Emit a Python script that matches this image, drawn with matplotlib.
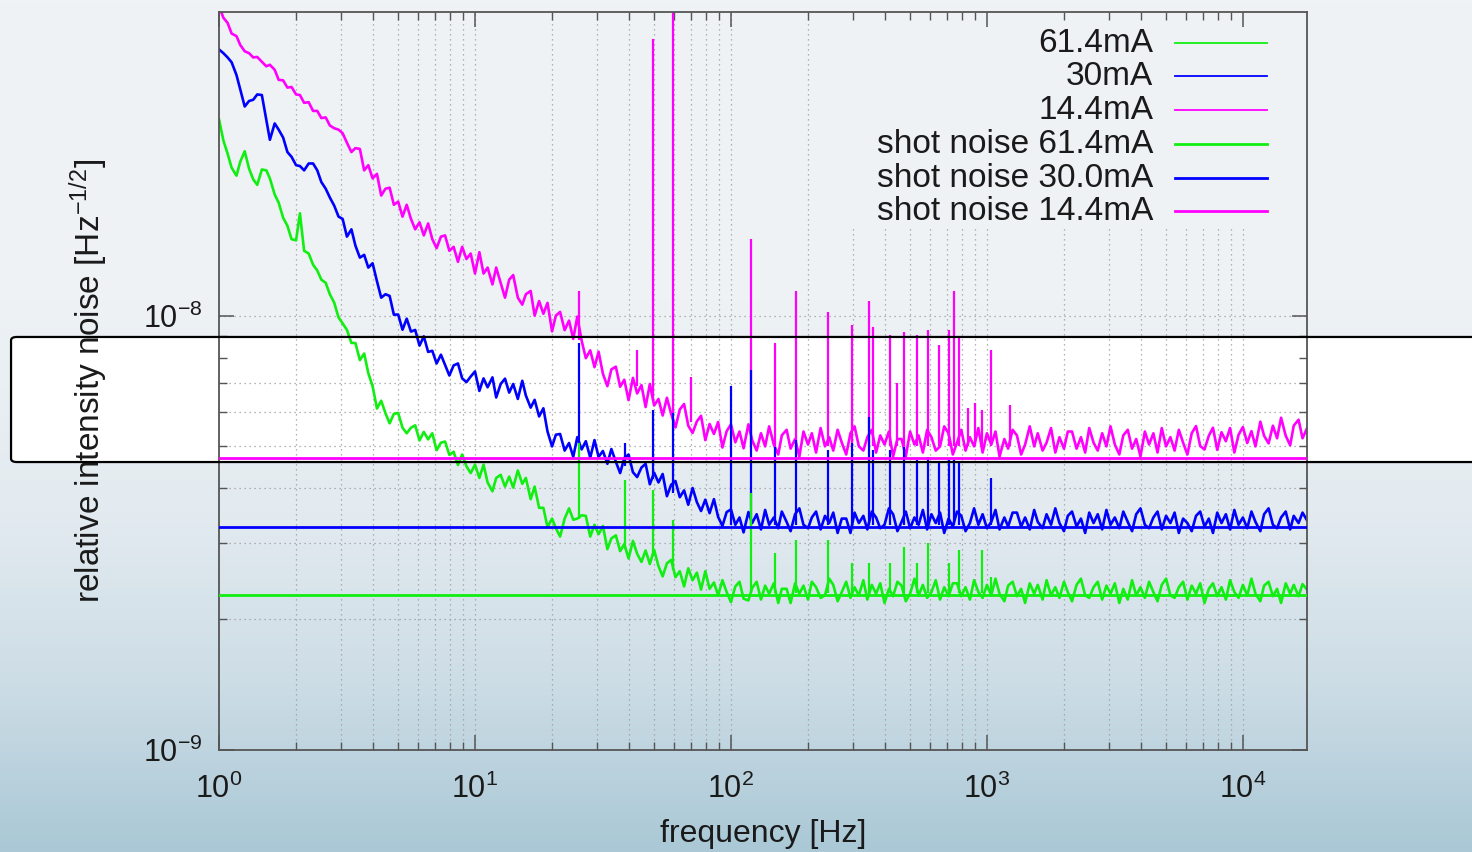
import numpy as np
import matplotlib.pyplot as plt
from matplotlib.colors import LinearSegmentedColormap
from matplotlib.patches import FancyBboxPatch
from matplotlib.ticker import FixedLocator, NullFormatter

plt.rcParams['font.family'] = ['Liberation Sans', 'DejaVu Sans']
plt.rcParams['mathtext.fontset'] = 'custom'
plt.rcParams['mathtext.rm'] = 'Liberation Sans'
plt.rcParams['mathtext.it'] = 'Liberation Sans:italic'
plt.rcParams['mathtext.bf'] = 'Liberation Sans:bold'

UNIT = 1e-9  # noise values below are in units of 1e-9 Hz^-1/2

# frequency axis [Hz], 60 points per decade
freq = [1.00, 1.04, 1.08, 1.12, 1.17, 1.21, 1.26, 1.31, 1.36, 1.41, 1.47, 1.53, 1.58, 1.65, 1.71,
        1.78, 1.85, 1.92, 2.00, 2.07, 2.15, 2.24, 2.33, 2.42, 2.51, 2.61, 2.71, 2.82, 2.93, 3.04,
        3.16, 3.29, 3.41, 3.55, 3.69, 3.83, 3.98, 4.14, 4.30, 4.47, 4.64, 4.82, 5.01, 5.21, 5.41,
        5.62, 5.84, 6.07, 6.31, 6.56, 6.81, 7.08, 7.36, 7.64, 7.94, 8.25, 8.58, 8.91, 9.26, 9.62,
        10.0, 10.4, 10.8, 11.2, 11.7, 12.1, 12.6, 13.1, 13.6, 14.1, 14.7, 15.3, 15.8, 16.5, 17.1,
        17.8, 18.5, 19.2, 20.0, 20.7, 21.5, 22.4, 23.3, 24.2, 25.1, 26.1, 27.1, 28.2, 29.3, 30.4,
        31.6, 32.9, 34.1, 35.5, 36.9, 38.3, 39.8, 41.4, 43.0, 44.7, 46.4, 48.2, 50.1, 52.1, 54.1,
        56.2, 58.4, 60.7, 63.1, 65.6, 68.1, 70.8, 73.6, 76.4, 79.4, 82.5, 85.8, 89.1, 92.6, 96.2,
        100, 104, 108, 112, 117, 121, 126, 131, 136, 141, 147, 153, 158, 165, 171,
        178, 185, 192, 200, 207, 215, 224, 233, 242, 251, 261, 271, 282, 293, 304,
        316, 329, 341, 355, 369, 383, 398, 414, 430, 447, 464, 482, 501, 521, 541,
        562, 584, 607, 631, 656, 681, 708, 736, 764, 794, 825, 858, 891, 926, 962,
        1000, 1040, 1080, 1120, 1170, 1210, 1260, 1310, 1360, 1410, 1470, 1530, 1580, 1650, 1710,
        1780, 1850, 1920, 2000, 2070, 2150, 2240, 2330, 2420, 2510, 2610, 2710, 2820, 2930, 3040,
        3160, 3290, 3410, 3550, 3690, 3830, 3980, 4140, 4300, 4470, 4640, 4820, 5010, 5210, 5410,
        5620, 5840, 6070, 6310, 6560, 6810, 7080, 7360, 7640, 7940, 8250, 8580, 8910, 9260, 9620,
        10000, 10400, 10800, 11200, 11700, 12100, 12600, 13100, 13600, 14100, 14700, 15300, 15800,
        16500, 17100, 17800]

# 14.4 mA
rin_144 = [51.5, 48.5, 47.2, 44.6, 44.0, 42.0, 40.6, 40.2, 39.3, 39.4, 38.4, 37.5, 37.8, 36.8, 34.9,
           34.8, 33.5, 33.6, 32.3, 32.2, 30.9, 31.0, 29.6, 29.6, 28.5, 28.6, 27.4, 27.0, 26.8, 26.3,
           25.0, 23.8, 24.3, 24.2, 21.6, 22.2, 20.7, 21.2, 18.9, 19.6, 19.7, 18.0, 18.3, 16.9, 18.0,
           16.7, 15.8, 16.4, 15.3, 16.3, 15.0, 14.3, 15.2, 15.3, 14.1, 14.4, 13.3, 14.4, 13.5, 13.9,
           12.5, 14.0, 12.5, 12.9, 11.8, 12.9, 11.9, 11.0, 12.1, 12.4, 11.0, 10.6, 11.2, 11.4, 10.0,
           10.8, 10.1, 10.7, 9.20, 10.0, 10.2, 9.26, 9.74, 8.84, 9.95, 8.76, 7.98, 8.32, 7.61, 8.26,
           7.35, 6.88, 7.52, 7.63, 6.86, 7.12, 6.39, 7.19, 6.62, 6.92, 6.16, 6.96, 6.21, 6.43, 5.89,
           6.47, 5.94, 5.53, 6.08, 6.26, 5.58, 5.37, 5.71, 5.88, 5.17, 5.63, 5.34, 5.69, 4.97, 5.42,
           5.62, 5.11, 5.41, 4.95, 5.62, 5.17, 4.89, 5.36, 5.00, 5.56, 5.05, 4.79, 5.30, 5.46, 4.94,
           5.20, 4.74, 5.41, 5.05, 5.36, 4.84, 5.51, 5.00, 5.25, 4.89, 5.46, 5.10, 4.79, 5.36, 5.56,
           5.00, 4.89, 5.25, 5.46, 4.84, 5.30, 5.05, 5.41, 4.74, 5.20, 5.20, 4.74, 5.41, 5.05, 5.30,
           4.84, 5.46, 5.25, 4.89, 5.00, 5.56, 5.36, 4.79, 5.10, 5.46, 4.89, 5.25, 5.00, 5.51, 4.84,
           5.36, 5.05, 5.41, 4.74, 5.20, 4.94, 5.46, 5.30, 4.79, 5.05, 5.56, 5.00, 5.36, 4.89, 5.10,
           5.51, 4.84, 5.25, 4.94, 5.41, 5.41, 4.94, 5.25, 4.84, 5.51, 5.10, 4.89, 5.36, 5.00, 5.56,
           5.05, 4.79, 5.30, 5.46, 4.94, 5.20, 4.74, 5.41, 5.05, 5.36, 4.84, 5.51, 5.00, 5.25, 4.89,
           5.46, 5.10, 4.79, 5.36, 5.57, 5.01, 4.92, 5.29, 5.52, 4.91, 5.39, 5.14, 5.51, 4.84, 5.32,
           5.54, 5.09, 5.42, 5.00, 5.70, 5.29, 5.08, 5.58, 5.22, 5.82, 5.29, 5.03, 5.58, 5.76, 5.22,
           5.50]

# 30 mA
rin_300 = [41.0, 40.2, 39.3, 38.3, 35.8, 33.2, 30.3, 31.2, 31.4, 32.3, 32.2, 28.2, 25.4, 27.7, 26.8,
           25.7, 23.8, 23.2, 22.2, 22.1, 21.6, 22.4, 22.4, 21.6, 20.3, 19.6, 18.7, 17.9, 16.9, 16.7,
           15.2, 15.8, 14.5, 13.6, 13.8, 12.9, 13.2, 12.0, 11.0, 11.2, 11.1, 10.05, 10.06, 9.28, 9.84,
           9.19, 9.27, 8.53, 8.96, 8.25, 8.30, 7.76, 8.13, 7.70, 7.28, 7.68, 7.76, 7.17, 7.03, 7.24,
           7.44, 6.71, 7.17, 6.84, 7.21, 6.48, 6.96, 7.16, 6.65, 6.96, 6.43, 7.08, 6.55, 6.14, 6.40,
           5.86, 6.12, 5.41, 5.00, 5.32, 5.34, 4.89, 5.09, 4.73, 5.25, 4.92, 5.14, 4.71, 5.17, 4.73,
           4.88, 4.56, 4.93, 4.61, 4.34, 4.70, 4.79, 4.36, 4.25, 4.47, 4.56, 4.09, 4.35, 4.13, 4.32,
           3.84, 4.08, 4.16, 3.82, 3.96, 3.67, 4.01, 3.72, 3.55, 3.77, 3.51, 3.78, 3.44, 3.28, 3.53,
           3.58, 3.30, 3.43, 3.17, 3.53, 3.33, 3.49, 3.22, 3.57, 3.30, 3.43, 3.24, 3.54, 3.35, 3.19,
           3.49, 3.60, 3.30, 3.24, 3.43, 3.54, 3.22, 3.46, 3.33, 3.52, 3.16, 3.41, 3.41, 3.16, 3.52,
           3.33, 3.46, 3.22, 3.54, 3.43, 3.24, 3.30, 3.60, 3.49, 3.19, 3.35, 3.54, 3.24, 3.43, 3.30,
           3.57, 3.22, 3.49, 3.33, 3.52, 3.16, 3.41, 3.27, 3.54, 3.46, 3.19, 3.33, 3.60, 3.30, 3.49,
           3.24, 3.35, 3.57, 3.22, 3.43, 3.27, 3.52, 3.52, 3.27, 3.43, 3.22, 3.57, 3.35, 3.24, 3.49,
           3.30, 3.60, 3.33, 3.19, 3.46, 3.54, 3.27, 3.41, 3.16, 3.52, 3.33, 3.49, 3.22, 3.57, 3.30,
           3.43, 3.24, 3.54, 3.35, 3.19, 3.49, 3.60, 3.30, 3.24, 3.43, 3.54, 3.22, 3.46, 3.33, 3.52,
           3.16, 3.41, 3.33, 3.19, 3.46, 3.54, 3.27, 3.41, 3.16, 3.52, 3.33, 3.49, 3.22, 3.57, 3.30,
           3.43, 3.24, 3.54, 3.35, 3.19, 3.49, 3.60, 3.30, 3.24, 3.43, 3.54, 3.22, 3.46, 3.33, 3.52,
           3.38]

# 61.4 mA
rin_614 = [28.3, 25.3, 23.6, 21.9, 21.0, 22.6, 23.9, 21.8, 20.6, 20.0, 21.7, 21.6, 20.7, 19.0, 18.2,
           16.8, 16.1, 15.0, 14.9, 17.2, 14.1, 13.9, 13.1, 12.7, 12.1, 11.9, 11.2, 10.7, 9.90, 9.60,
           9.27, 8.65, 8.65, 7.90, 8.18, 7.37, 6.88, 6.11, 6.37, 5.96, 5.65, 5.94, 5.97, 5.52, 5.36,
           5.52, 5.59, 5.16, 5.40, 5.19, 5.36, 4.90, 5.10, 5.13, 4.78, 4.86, 4.53, 4.79, 4.50, 4.34,
           4.54, 4.23, 4.54, 4.13, 3.94, 4.23, 4.30, 4.04, 4.26, 4.02, 4.40, 4.10, 4.23, 3.78, 4.04,
           3.61, 3.61, 3.26, 3.41, 3.24, 3.10, 3.41, 3.60, 3.39, 3.41, 3.47, 3.46, 3.10, 3.30, 3.14,
           3.28, 2.90, 3.07, 3.12, 2.87, 2.98, 2.76, 3.03, 2.83, 2.71, 2.88, 2.68, 2.89, 2.65, 2.51,
           2.69, 2.74, 2.50, 2.58, 2.38, 2.62, 2.46, 2.56, 2.34, 2.58, 2.35, 2.43, 2.27, 2.46, 2.31,
           2.19, 2.38, 2.44, 2.23, 2.21, 2.36, 2.44, 2.22, 2.39, 2.29, 2.42, 2.18, 2.35, 2.35, 2.18,
           2.42, 2.29, 2.39, 2.22, 2.44, 2.37, 2.24, 2.27, 2.48, 2.40, 2.20, 2.31, 2.44, 2.24, 2.37,
           2.27, 2.46, 2.22, 2.40, 2.29, 2.42, 2.18, 2.35, 2.26, 2.44, 2.39, 2.20, 2.29, 2.48, 2.27,
           2.40, 2.24, 2.31, 2.46, 2.22, 2.37, 2.26, 2.42, 2.42, 2.26, 2.37, 2.22, 2.46, 2.31, 2.24,
           2.40, 2.27, 2.48, 2.29, 2.20, 2.39, 2.44, 2.26, 2.35, 2.18, 2.42, 2.29, 2.40, 2.22, 2.46,
           2.27, 2.37, 2.24, 2.44, 2.31, 2.20, 2.40, 2.48, 2.27, 2.24, 2.37, 2.44, 2.22, 2.39, 2.29,
           2.42, 2.18, 2.35, 2.22, 2.46, 2.27, 2.37, 2.24, 2.44, 2.31, 2.20, 2.40, 2.48, 2.27, 2.24,
           2.37, 2.44, 2.22, 2.39, 2.29, 2.42, 2.18, 2.35, 2.42, 2.26, 2.37, 2.22, 2.46, 2.31, 2.24,
           2.40, 2.27, 2.48, 2.29, 2.20, 2.39, 2.44, 2.26, 2.35, 2.18, 2.42, 2.29, 2.40, 2.26, 2.41,
           2.34]

# narrow lines (mains harmonics etc.): frequency, foot, peak
spike_f_144 = [25.4, 43.0, 49.5, 59.5, 70.0, 120, 148, 180, 240, 297, 346, 359, 418,
               445, 475, 535, 590, 650, 710, 745, 780, 840, 900, 960, 1040, 1230]
spike_lo_144 = [8.8, 6.9, 6.4, 5.9, 5.7, 5.0, 5.0, 5.0, 5.0, 5.0, 5.0, 5.0, 5.0,
                5.0, 5.0, 5.0, 5.0, 5.0, 5.0, 5.0, 5.0, 5.0, 5.0, 5.0, 5.0, 5.0]
spike_hi_144 = [11.4, 8.35, 43.3, 60.0, 7.24, 15.0, 8.67, 11.4, 10.2, 9.54, 10.8, 9.43, 9.04,
                7.01, 9.19, 9.04, 9.29, 8.58, 9.29, 11.4, 8.90, 6.14, 6.30, 6.07, 8.35, 6.24]

spike_f_300 = [25.4, 38.6, 49.5, 59.5, 100, 120, 148, 180, 240, 297, 346,
               359, 418, 475, 535, 590, 650, 710, 745, 780, 1040]
spike_lo_300 = [5.0, 4.5, 4.2, 3.9, 3.3, 3.3, 3.3, 3.3, 3.3, 3.3, 3.3,
                3.3, 3.3, 3.3, 3.3, 3.3, 3.3, 3.3, 3.3, 3.3, 3.3]
spike_hi_300 = [8.67, 5.10, 6.07, 5.98, 6.9, 7.51, 4.99, 5.18, 4.91, 5.10, 5.85,
                4.91, 4.91, 4.99, 4.66, 4.73, 4.58, 4.66, 4.66, 4.58, 4.23]

spike_f_614 = [25.4, 38.6, 49.5, 59.5, 120, 148, 180, 240, 297,
               346, 418, 475, 535, 590, 710, 780, 960, 1040]
spike_lo_614 = [3.4, 2.9, 2.8, 2.6, 2.3, 2.3, 2.3, 2.3, 2.3,
                2.3, 2.3, 2.3, 2.3, 2.3, 2.3, 2.3, 2.3, 2.3]
spike_hi_614 = [5.10, 4.19, 3.97, 3.39, 3.9, 2.84, 3.05, 3.05, 2.70,
                2.70, 2.70, 2.94, 2.70, 3.00, 2.70, 2.89, 2.89, 2.50]

# shot noise levels
shot_614 = 2.28
shot_300 = 3.26
shot_144 = 4.71

labels = ['61.4mA', '30mA', '14.4mA',
          'shot noise 61.4mA', 'shot noise 30.0mA', 'shot noise 14.4mA']

GREEN = '#11ee11'
BLUE = '#0000ff'
MAGENTA = '#ff00ff'
GRIDC = '#9c9c9c'
AXC = '#555555'

fig = plt.figure(figsize=(14.72, 8.52), dpi=100)

# slide background: vertical gradient + white highlight box
bg = fig.add_axes([0, 0, 1, 1], zorder=-10)
cmap = LinearSegmentedColormap.from_list(
    'bg', [(0.0, '#f0f3f5'), (0.35, '#eef2f5'), (0.6, '#e3ebf0'),
           (0.8, '#cddde6'), (1.0, '#aac8d6')])
bg.imshow(np.linspace(0, 1, 256).reshape(-1, 1), aspect='auto', cmap=cmap,
          extent=[0, 1, 0, 1])
bg.set_xlim(0, 1)
bg.set_ylim(0, 1)
bg.axis('off')
box_xy = (0.0075, 0.4577)
box_w, box_h = 1.0, 0.1468
bg.add_patch(FancyBboxPatch(box_xy, box_w, box_h,
                            boxstyle='round,pad=0,rounding_size=0.004',
                            fc='white', ec='none'))
fig.add_artist(FancyBboxPatch(box_xy, box_w, box_h,
                              boxstyle='round,pad=0,rounding_size=0.004',
                              fill=False, ec='black', lw=1.6,
                              transform=fig.transFigure, zorder=5))

ax = fig.add_axes([0.1488, 0.1197, 0.7391, 0.8662])
ax.set_facecolor('none')
ax.set_xscale('log')
ax.set_yscale('log')
xmin, xmax = 1, 17800
ymin, ymax = 1e-9, 5e-8
ax.set_xlim(xmin, xmax)
ax.set_ylim(ymin, ymax)

# dotted grid (vertical lines from 300 Hz on stop below the key)
for d in range(5):
    for m in range(1, 10):
        x = m * 10 ** d
        if x <= xmin or x >= xmax:
            continue
        top = ymax if x < 250 else 1.6e-8
        ax.plot([x, x], [ymin, top], ls=(0, (1, 3)), color=GRIDC, lw=0.9, zorder=0.5)
for k in [2, 3, 4, 5, 6, 7, 10]:
    ax.plot([xmin, xmax], [k * UNIT, k * UNIT], ls=(0, (1, 3)), color=GRIDC, lw=0.9, zorder=0.5)

f = np.array(freq)
series = [(rin_144, MAGENTA, spike_f_144, spike_lo_144, spike_hi_144),
          (rin_300, BLUE, spike_f_300, spike_lo_300, spike_hi_300),
          (rin_614, GREEN, spike_f_614, spike_lo_614, spike_hi_614)]
for vals, col, sf, slo, shi in series:
    ax.plot(f, np.array(vals) * UNIT, color=col, lw=1.9, zorder=2)
    ax.vlines(sf, np.array(slo) * UNIT, np.array(shi) * UNIT, color=col, lw=1.6, zorder=2)

for lvl, col in [(shot_144, MAGENTA), (shot_300, BLUE), (shot_614, GREEN)]:
    ax.axhline(lvl * UNIT, color=col, lw=2.0, zorder=3)

# ticks
ax.yaxis.set_minor_locator(FixedLocator([k * UNIT for k in range(2, 10)]))
ax.yaxis.set_minor_formatter(NullFormatter())
ax.xaxis.set_minor_formatter(NullFormatter())
ax.tick_params(which='both', direction='in', top=True, right=True, colors=AXC,
               labelcolor='#1a1a1a', labelsize=22)
ax.tick_params(which='major', length=11, width=1.1)
ax.tick_params(which='minor', length=6, width=1.0)
ax.tick_params(axis='x', pad=17)
ax.tick_params(axis='y', pad=12)
for sp in ax.spines.values():
    sp.set_color(AXC)
    sp.set_linewidth(1.3)

ax.set_xlabel('frequency [Hz]', fontsize=23, color='#1a1a1a')
ax.xaxis.set_label_coords(0.5, -0.094)
ax.set_ylabel(r'relative intensity noise [Hz$^{-1/2}$]', fontsize=24, color='#1a1a1a')
ax.yaxis.set_label_coords(-0.1, 0.5)

# key: right-aligned text, sample line on the right
key_cols = [GREEN, BLUE, MAGENTA, GREEN, BLUE, MAGENTA]
key_lw = [1.3, 1.3, 1.3, 2.0, 2.0, 2.0]
key_y = [0.958, 0.913, 0.867, 0.821, 0.775, 0.730]
for lab, col, lw, y in zip(labels, key_cols, key_lw, key_y):
    ax.text(0.8585, y, lab, transform=ax.transAxes, ha='right', va='center',
            fontsize=24, color='#1a1a1a')
    ax.plot([0.8787, 0.9632], [y, y], transform=ax.transAxes, color=col, lw=lw)

fig.savefig('out.png', dpi=100)
